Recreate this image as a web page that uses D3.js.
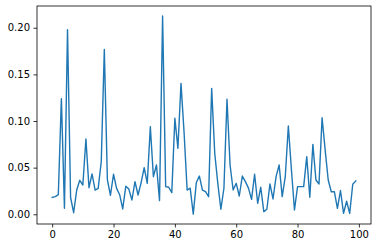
<!DOCTYPE html>
<html>
<head>
<meta charset="utf-8">
<script src="https://cdn.jsdelivr.net/npm/d3@7"></script>
<style>
  html, body { margin: 0; padding: 0; background: #fff; }
  svg { display: block; }
  .tick text { font-family: "DejaVu Sans", sans-serif; font-size: 10px; fill: #000; }
</style>
</head>
<body>
<svg id="chart" width="378" height="248"></svg>
<script>
const values = [
  0.018, 0.019, 0.021, 0.124, 0.0064, 0.198, 0.018, 0.0017, 0.026, 0.0364,
  0.0314, 0.0807, 0.0285, 0.0432, 0.026, 0.0278, 0.0564, 0.1768, 0.0368, 0.0204,
  0.0429, 0.0278, 0.021, 0.0057, 0.030, 0.027, 0.0153, 0.035, 0.0207, 0.034,
  0.050, 0.0332, 0.0939, 0.0403, 0.0528, 0.0146, 0.2127, 0.0296, 0.029, 0.0232,
  0.1029, 0.0707, 0.1404, 0.088, 0.026, 0.028, 0.0002, 0.034, 0.041, 0.026,
  0.0242, 0.0189, 0.135, 0.0654, 0.0332, 0.0054, 0.0279, 0.1233, 0.0528, 0.026,
  0.0332, 0.0196, 0.041, 0.035, 0.028, 0.016, 0.0429, 0.0118, 0.029, 0.0028,
  0.0054, 0.0325, 0.0164, 0.0403, 0.0528, 0.0189, 0.0403, 0.0946, 0.048, 0.0046,
  0.0296, 0.0296, 0.0296, 0.0618, 0.0182, 0.075, 0.0368, 0.0325, 0.1035, 0.069,
  0.0368, 0.0242, 0.0242, 0.0064, 0.0255, 0.001, 0.014, 0.001, 0.0322, 0.0358
];
const xTicks = [0, 20, 40, 60, 80, 100];
const yTicks = [0.00, 0.05, 0.10, 0.15, 0.20];

const svg = d3.select("#chart");
const padL = 37, padR = 371, padT = 6, padB = 224;

const n = values.length;
const xPad = 0.05 * (n - 1);
const x = d3.scaleLinear().domain([-xPad, (n - 1) + xPad]).range([padL, padR]);
const yMin = d3.min(values), yMax = d3.max(values);
const yPad = 0.05 * (yMax - yMin);
const y = d3.scaleLinear().domain([yMin - yPad, yMax + yPad]).range([padB, padT]);

const xAxis = svg.append("g")
  .attr("transform", `translate(0,${padB})`)
  .call(d3.axisBottom(x).tickValues(xTicks).tickFormat(d3.format("d")).tickSize(3.5).tickPadding(3.5));
const yAxis = svg.append("g")
  .attr("transform", `translate(${padL},0)`)
  .call(d3.axisLeft(y).tickValues(yTicks).tickFormat(d3.format(".2f")).tickSize(3.5).tickPadding(3.5));
[xAxis, yAxis].forEach(g => {
  g.select(".domain").remove();
  g.selectAll(".tick line").attr("stroke", "#000").attr("stroke-width", 0.8);
});

const line = d3.line().x((d, i) => x(i)).y(d => y(d));
svg.append("path")
  .datum(values)
  .attr("fill", "none")
  .attr("stroke", "#1f77b4")
  .attr("stroke-width", 1.4)
  .attr("stroke-linejoin", "round")
  .attr("stroke-linecap", "square")
  .attr("d", line);

svg.append("rect")
  .attr("x", padL).attr("y", padT)
  .attr("width", padR - padL).attr("height", padB - padT)
  .attr("fill", "none").attr("stroke", "#000").attr("stroke-width", 0.8);
</script>
</body>
</html>
